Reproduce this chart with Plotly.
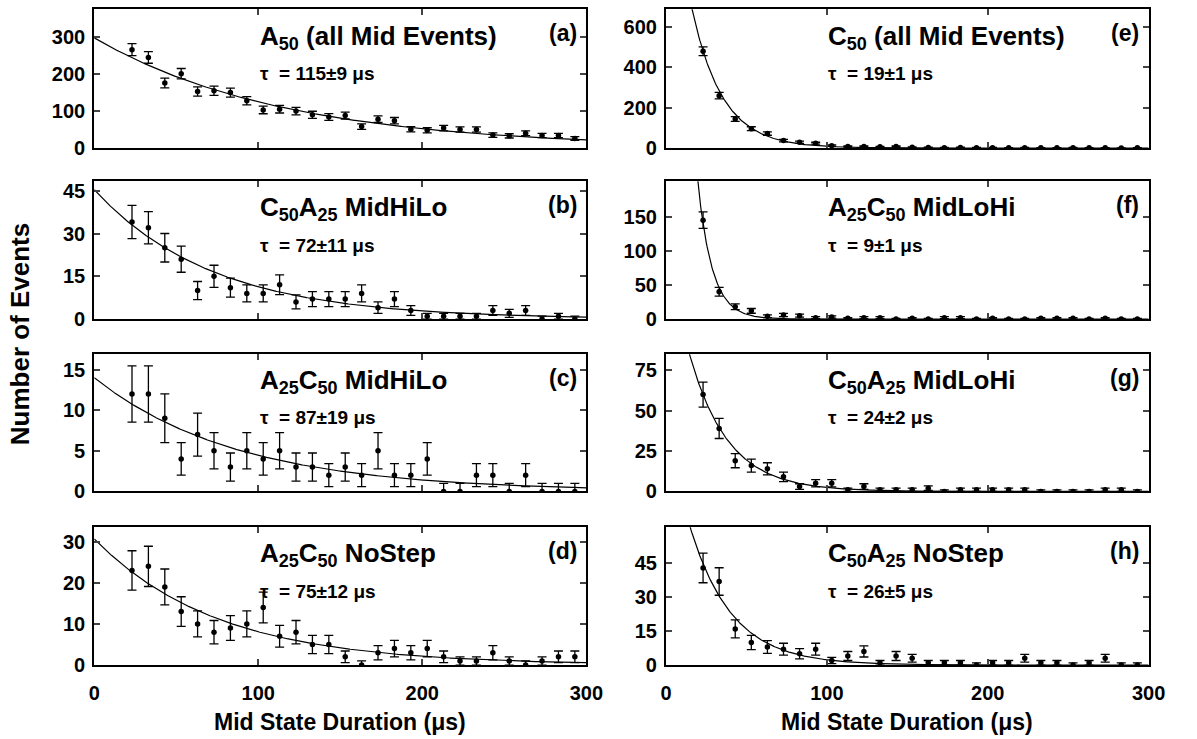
import numpy as np
import plotly.graph_objects as go
from plotly.subplots import make_subplots

# ---------------- data ----------------
x_bins = [23, 33, 43, 53, 63, 73, 83, 93, 103, 113, 123, 133, 143, 153,
          163, 173, 183, 193, 203, 213, 223, 233, 243, 253, 263, 273, 283, 293]

counts_a = [266, 245, 176, 201, 153, 155, 150, 128, 103, 105, 100, 90, 84, 88,
            58, 78, 74, 51, 48, 54, 50, 50, 35, 33, 40, 34, 34, 26]
counts_b = [34, 32, 25, 21, 10, 15, 11, 9, 9, 12, 6, 7, 7, 7,
            9, 4, 7, 3, 1, 1, 1, 1, 3, 2, 3, 0, 1, 0]
counts_c = [12, 12, 9, 4, 7, 5, 3, 5, 4, 5, 3, 3, 2, 3,
            2, 5, 2, 2, 4, 0, 0, 2, 2, 0, 2, 0, 0, 0]
counts_d = [23, 24, 19, 13, 10, 8, 9, 10, 14, 7, 8, 5, 5, 2,
            0, 3, 4, 3, 4, 2, 1, 1, 3, 1, 0, 1, 2, 2]
counts_e = [480, 260, 144, 96, 72, 37, 29, 24, 12, 8, 8, 6, 8, 4,
            3, 2, 3, 2, 2, 1, 2, 1, 1, 2, 1, 1, 0, 1]
counts_f = [145, 40, 18, 12, 4, 6, 5, 2, 3, 1, 2, 2, 0, 1,
            0, 2, 2, 0, 1, 0, 0, 1, 1, 1, 0, 1, 0, 0]
counts_g = [60, 39, 19, 16, 14, 9, 3, 5, 5, 1, 3, 1, 1, 1,
            2, 0, 1, 1, 1, 1, 1, 0, 0, 0, 0, 1, 1, 0]
counts_h = [43, 37, 16, 10, 8, 7, 5, 7, 2, 4, 6, 1, 4, 3,
            1, 1, 1, 0, 1, 1, 3, 1, 1, 0, 1, 3, 0, 0]

# exponential fit parameters: amplitude and tau (us)
fit_amp = [298, 45.4, 14.0, 30.7, 1612, 1804, 156, 108.6]
fit_tau = [115, 72, 87, 75, 19, 9, 24, 26]
tau_err = [9, 11, 19, 12, 1, 1, 2, 5]

SUB = "<sub><span style='font-size:18px'>{}</span></sub>"
panel_titles = ["A" + SUB.format("50") + " (all Mid Events)",
                "C" + SUB.format("50") + "A" + SUB.format("25") + " MidHiLo",
                "A" + SUB.format("25") + "C" + SUB.format("50") + " MidHiLo",
                "A" + SUB.format("25") + "C" + SUB.format("50") + " NoStep",
                "C" + SUB.format("50") + " (all Mid Events)",
                "A" + SUB.format("25") + "C" + SUB.format("50") + " MidLoHi",
                "C" + SUB.format("50") + "A" + SUB.format("25") + " MidLoHi",
                "C" + SUB.format("50") + "A" + SUB.format("25") + " NoStep"]
panel_letters = ["(a)", "(b)", "(c)", "(d)", "(e)", "(f)", "(g)", "(h)"]
y_ranges = [375, 48.3, 16.9, 33.5, 688, 202, 85, 61]
y_ticks = [[0, 100, 200, 300], [0, 15, 30, 45], [0, 5, 10, 15], [0, 10, 20, 30],
           [0, 200, 400, 600], [0, 50, 100, 150], [0, 25, 50, 75], [0, 15, 30, 45]]
x_ticks = [0, 100, 200, 300]
x_title = "Mid State Duration (\u03bcs)"
y_title = "Number of Events"

all_counts = [counts_a, counts_b, counts_c, counts_d, counts_e, counts_f, counts_g, counts_h]

# ---------------- layout geometry (pixels) ----------------
W, H = 1197, 739
col_px = [(90, 591.7), (673, 1165)]
row_px = [(8.5, 149.5), (183.3, 323.3), (359, 498.5), (535, 675)]

FONT = "Liberation Sans, Arial, sans-serif"

fig = make_subplots(rows=4, cols=2)

x_curve = np.linspace(0, 300, 601)

for p in range(8):
    col = p // 4          # 0 left, 1 right
    row = p % 4
    idx = row * 2 + col + 1
    cnt = np.array(all_counts[p], dtype=float)
    err = np.sqrt(np.maximum(cnt, 1.0))
    fig.add_trace(go.Scatter(
        x=x_bins, y=cnt, mode="markers",
        marker=dict(color="black", size=5.5),
        error_y=dict(type="data", array=err, color="black", thickness=1.3, width=4.5),
        showlegend=False), row=row + 1, col=col + 1)
    fig.add_trace(go.Scatter(
        x=x_curve, y=fit_amp[p] * np.exp(-x_curve / fit_tau[p]), mode="lines",
        line=dict(color="black", width=1.2), showlegend=False),
        row=row + 1, col=col + 1)

    xa = "xaxis" if idx == 1 else f"xaxis{idx}"
    ya = "yaxis" if idx == 1 else f"yaxis{idx}"
    x0, x1 = col_px[col]
    t, b = row_px[row]
    fig.layout[xa].update(
        domain=[x0 / W, x1 / W], range=[0, 300], tickvals=x_ticks,
        showticklabels=(row == 3), ticks="inside", ticklen=6, tickwidth=1.5,
        ticklabelstandoff=9,
        showline=True, mirror="ticks", linecolor="black", linewidth=2.2,
        showgrid=False, zeroline=False,
        tickfont=dict(family=FONT, size=20, color="black", weight="bold"))
    fig.layout[ya].update(
        domain=[1 - b / H, 1 - t / H], range=[0, y_ranges[p]], tickvals=y_ticks[p],
        ticks="inside", ticklen=6, tickwidth=1.5, ticklabelstandoff=3,
        showline=True, mirror="ticks", linecolor="black", linewidth=2.2,
        showgrid=False, zeroline=False,
        tickfont=dict(family=FONT, size=20, color="black", weight="bold"))

    xref = "x domain" if idx == 1 else f"x{idx} domain"
    yref = "y domain" if idx == 1 else f"y{idx} domain"
    fig.add_annotation(text=panel_titles[p], xref=xref, yref=yref, x=0.332, y=0.80,
                       xanchor="left", yanchor="middle", showarrow=False,
                       font=dict(family=FONT, size=26, color="black", weight="bold"))
    fig.add_annotation(text=f"\u03c4 \u00a0= {fit_tau[p]}\u00b1{tau_err[p]} \u03bcs",
                       xref=xref, yref=yref, x=0.332, y=0.535,
                       xanchor="left", yanchor="middle", showarrow=False,
                       font=dict(family=FONT, size=19, color="black", weight="bold"))
    fig.add_annotation(text=panel_letters[p], xref=xref, yref=yref, x=0.985, y=0.83,
                       xanchor="right", yanchor="middle", showarrow=False,
                       font=dict(family=FONT, size=23, color="black", weight="bold"))

# axis titles
for c in range(2):
    x0, x1 = col_px[c]
    fig.add_annotation(text=x_title, xref="paper", yref="paper",
                       x=(x0 + x1) / 2 / W, y=1 - 733 / H, xanchor="center", yanchor="middle",
                       showarrow=False,
                       font=dict(family=FONT, size=23, color="black", weight="bold"))
fig.add_annotation(text=y_title, xref="paper", yref="paper", x=14 / W, y=1 - 338 / H,
                   xanchor="center", yanchor="middle", textangle=-90, showarrow=False,
                   font=dict(family=FONT, size=26, color="black", weight="bold"))

fig.update_layout(width=W, height=H, margin=dict(l=0, r=0, t=0, b=0),
                  plot_bgcolor="white", paper_bgcolor="white", showlegend=False)

fig.write_html("out.html")
